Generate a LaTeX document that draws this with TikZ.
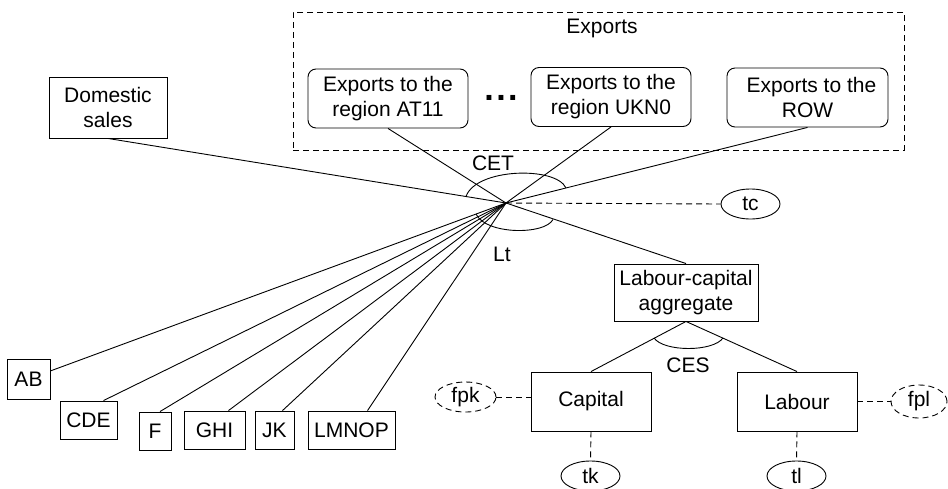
\documentclass[tikz,border=0pt]{standalone}
\usepackage{fontspec}
\setmainfont{Liberation Sans}
\usetikzlibrary{shapes.geometric}
\begin{document}
\begin{tikzpicture}[x=1pt,y=-1pt,line width=0.9pt,
  every node/.style={font=\fontsize{21}{25}\selectfont,align=center,inner sep=0pt},
  box/.style={draw,rectangle},
  rbox/.style={draw,rectangle,rounded corners=8pt,minimum width=160pt,minimum height=59pt},
  oval/.style={draw,ellipse,minimum width=59pt,minimum height=30pt},
  dline/.style={dash pattern=on 6pt off 4pt},
  lbl/.style={anchor=base}]
\useasboundingbox (0,0) rectangle (948,488);

% exports frame
\node[draw,dline,minimum width=611pt,minimum height=138pt] (exframe) at (598.5,81) {};
\node[lbl] (exlbl) at (602,33) {Exports};
\node[rbox] (at11) at (388,98.5) {Exports to the\\region AT11};
\node[rbox] (ukn0) at (611,97) {Exports to the\\region UKN0};
\node[rbox,minimum width=161pt] (row) at (807.5,97.5) {\hspace*{8pt}Exports to the\\ROW};
\node[anchor=base,font=\fontsize{34}{34}\selectfont\bfseries] (dots) at (501,100.5) {.\hspace{2.5pt}.\hspace{2.5pt}.};

% domestic
\node[box,minimum width=118pt,minimum height=61pt] (dom) at (108,107.5) {Domestic\\sales};

% hub
\coordinate (hub) at (506,203);

% intermediate boxes
\node[box,minimum width=43pt,minimum height=40pt] (ab) at (28.5,379) {AB};
\node[box,minimum width=57pt,minimum height=38pt] (cde) at (88.5,420) {CDE};
\node[box,minimum width=32pt,minimum height=38pt] (f) at (155,431) {F};
\node[box,minimum width=61pt,minimum height=38pt] (ghi) at (214.5,430) {GHI};
\node[box,minimum width=39pt,minimum height=38pt] (jk) at (274.5,430) {JK};
\node[box,minimum width=87pt,minimum height=38pt] (lmnop) at (351.5,430) {LMNOP};

% labour-capital
\node[box,minimum width=144pt,minimum height=57pt] (lc) at (686,292.5) {Labour-capital\\aggregate};
\node[box,minimum width=120pt,minimum height=59pt] (cap) at (591,401.5) {Capital};
\node[box,minimum width=120pt,minimum height=59pt] (lab) at (797,401.5) {Labour};

% ovals
\node[oval] (tc) at (750.5,204) {tc};
\node[oval,dline,minimum width=61pt] (fpk) at (465.5,397) {fpk};
\node[oval,dline,minimum width=56pt,minimum height=33pt] (fpl) at (919,401.5) {fpl};
\node[oval] (tk) at (590.5,476) {tk};
\node[oval] (tl) at (796.5,476) {tl};

% labels
\node[lbl] (cet) at (493,170) {CET};
\node[lbl] (lt) at (502,261) {Lt};
\node[lbl] (ces) at (688,372) {CES};

% connectors from hub
\draw (hub) -- (dom.south);
\draw (hub) -- (at11.south);
\draw (hub) -- (ukn0.south);
\draw (hub) -- (row.south);
\draw (hub) -- (lc.north);
\draw[dline] (hub) -- (tc.west);
\draw (hub) -- (ab);
\draw (hub) -- ([xshift=15pt]cde.north);
\draw (hub) -- ([xshift=5pt]f.north);
\draw (hub) -- ([xshift=14pt]ghi.north);
\draw (hub) -- ([xshift=8pt]jk.north);
\draw (hub) -- ([xshift=16pt]lmnop.north);

% CET and Lt arcs
\draw (466,196.5) .. controls (476,168) and (556,166) .. (566,188);
\draw (476,214) .. controls (486,235) and (545,235) .. (553,219.5);

% lower tree
\draw (lc.south) -- (cap.north);
\draw (lc.south) -- (lab.north);
\draw (654,338) .. controls (664,352) and (713,352) .. (723,338);

\draw[dline] (fpk.east) -- (fpk.east -| cap.west);
\draw[dline] (lab.east) -- (fpl.west);
\draw[dline] (cap.south) -- (tk.north);
\draw[dline] (lab.south) -- (tl.north);
\end{tikzpicture}
\end{document}
